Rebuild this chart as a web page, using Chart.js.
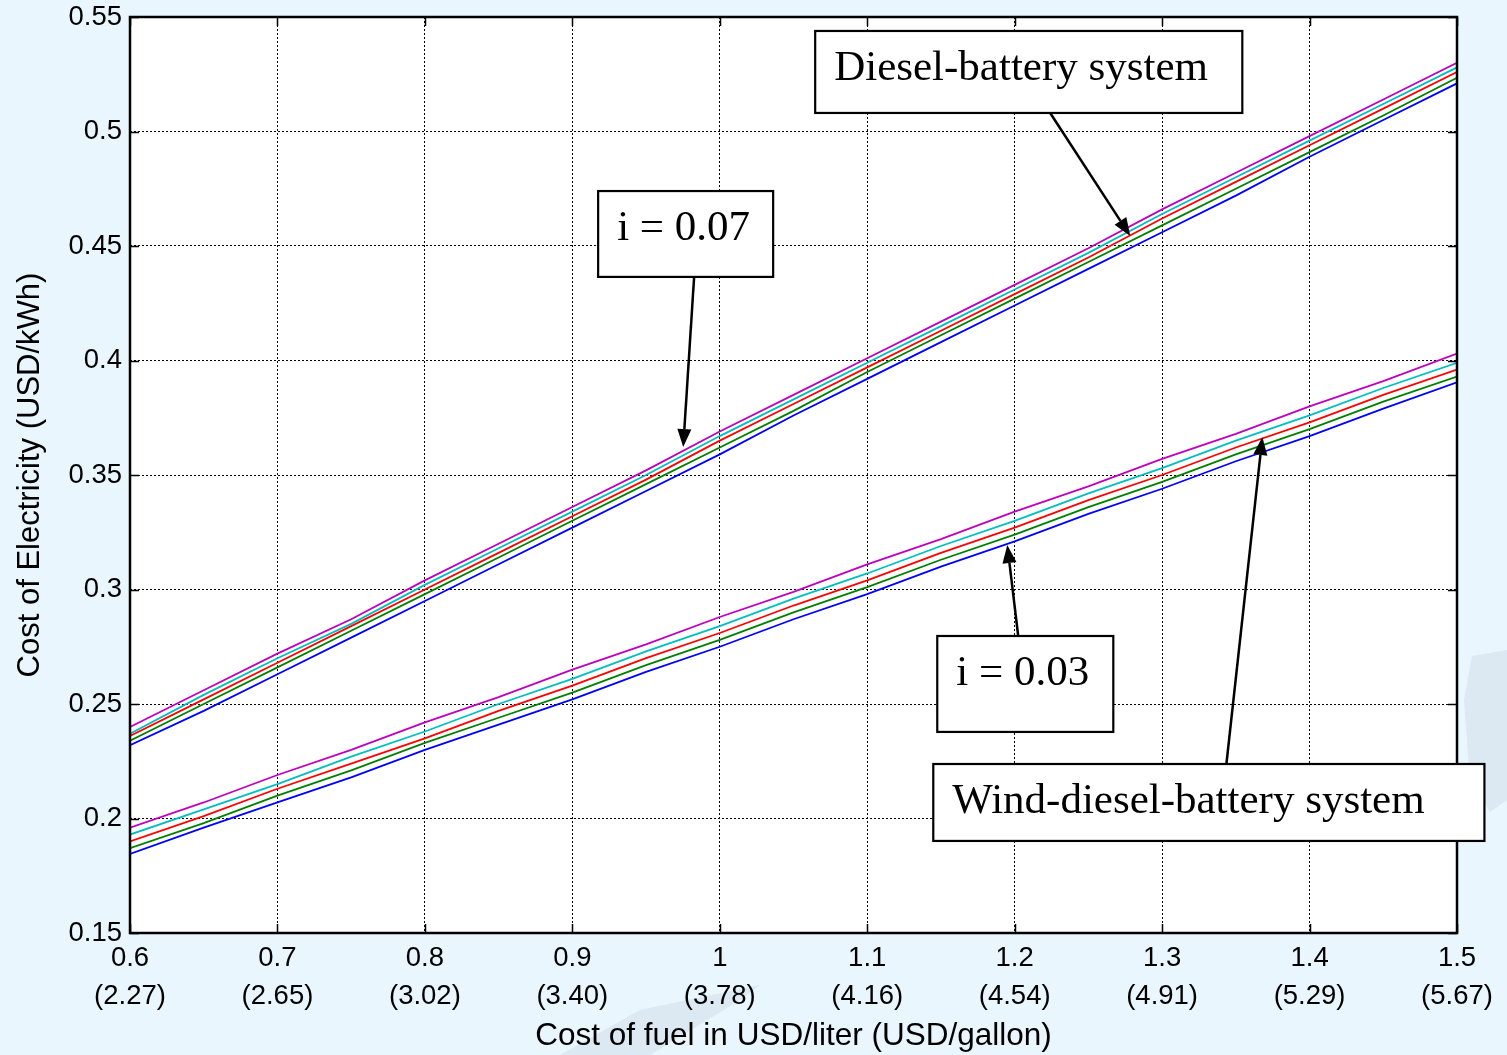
<!DOCTYPE html>
<html>
<head>
<meta charset="utf-8">
<title>Cost of Electricity vs Cost of Fuel</title>
<script src="https://cdn.jsdelivr.net/npm/chart.js@4.4.1/dist/chart.umd.min.js"></script>
<style>
  html, body { margin: 0; padding: 0; background: #eaf6fd; }
  #wrap { position: relative; width: 1507px; height: 1055px; }
  canvas { display: block; }
</style>
</head>
<body>
<div id="wrap"><canvas id="c" width="1507" height="1055"></canvas></div>
<script>
// Fuel price (USD/liter) sampled every 0.05
const fuelPrice = [0.6, 0.65, 0.7, 0.75, 0.8, 0.85, 0.9, 0.95, 1.0, 1.05, 1.1, 1.15, 1.2, 1.25, 1.3, 1.35, 1.4, 1.45, 1.5];

// Diesel-battery system (i = 0.07 group)
const dieselMagenta = [0.240, 0.256, 0.272, 0.287, 0.304, 0.320, 0.336, 0.352, 0.369, 0.385, 0.401, 0.417, 0.433, 0.449, 0.466, 0.482, 0.498, 0.514, 0.530];
const dieselCyan    = [0.237, 0.254, 0.270, 0.285, 0.302, 0.318, 0.334, 0.350, 0.367, 0.383, 0.399, 0.415, 0.431, 0.447, 0.464, 0.480, 0.496, 0.512, 0.528];
const dieselRed     = [0.236, 0.252, 0.268, 0.284, 0.300, 0.316, 0.332, 0.348, 0.365, 0.381, 0.397, 0.413, 0.429, 0.445, 0.462, 0.478, 0.494, 0.510, 0.526];
const dieselGreen   = [0.234, 0.250, 0.266, 0.282, 0.298, 0.314, 0.330, 0.346, 0.362, 0.378, 0.395, 0.411, 0.427, 0.443, 0.459, 0.475, 0.491, 0.507, 0.5235];
const dieselBlue    = [0.232, 0.247, 0.263, 0.279, 0.295, 0.311, 0.327, 0.343, 0.359, 0.376, 0.392, 0.408, 0.424, 0.440, 0.456, 0.472, 0.489, 0.505, 0.521];

// Wind-diesel-battery system (i = 0.03 group)
const windMagenta = [0.196, 0.207, 0.219, 0.230, 0.242, 0.253, 0.265, 0.276, 0.288, 0.299, 0.311, 0.322, 0.334, 0.345, 0.357, 0.368, 0.380, 0.391, 0.403];
const windCyan    = [0.193, 0.204, 0.215, 0.227, 0.238, 0.250, 0.261, 0.273, 0.284, 0.296, 0.307, 0.319, 0.330, 0.342, 0.353, 0.365, 0.376, 0.388, 0.399];
const windRed     = [0.190, 0.201, 0.213, 0.224, 0.235, 0.247, 0.258, 0.270, 0.281, 0.293, 0.304, 0.316, 0.327, 0.339, 0.350, 0.362, 0.373, 0.385, 0.396];
const windGreen   = [0.187, 0.198, 0.210, 0.221, 0.233, 0.244, 0.255, 0.267, 0.278, 0.290, 0.301, 0.313, 0.324, 0.336, 0.347, 0.359, 0.370, 0.382, 0.393];
const windBlue    = [0.1845, 0.196, 0.207, 0.218, 0.230, 0.241, 0.252, 0.264, 0.275, 0.287, 0.298, 0.310, 0.321, 0.333, 0.344, 0.356, 0.367, 0.379, 0.3905];

// X tick labels: USD/liter with USD/gallon underneath
const xTickValues  = [0.6, 0.7, 0.8, 0.9, 1.0, 1.1, 1.2, 1.3, 1.4, 1.5];
const xTickLiter   = ['0.6', '0.7', '0.8', '0.9', '1', '1.1', '1.2', '1.3', '1.4', '1.5'];
const xTickGallon  = ['(2.27)', '(2.65)', '(3.02)', '(3.40)', '(3.78)', '(4.16)', '(4.54)', '(4.91)', '(5.29)', '(5.67)'];

const lineColors = ['#bf00bf', '#00bfbf', '#ff0000', '#008000', '#0000ff'];

// Callout boxes (data units) with arrows pointing at the curves
const callouts = [
  { text: 'Diesel-battery system',      box: [1.0647, 0.5439, 1.3544, 0.5081], from: [1.2241, 0.5081], to: [1.2784, 0.4544] },
  { text: 'i = 0.07',                   box: [0.9175, 0.4740, 1.0362, 0.4365], from: [0.9826, 0.4365], to: [0.9752, 0.3622] },
  { text: 'i = 0.03',                   box: [1.1475, 0.2797, 1.2669, 0.2378], from: [1.2024, 0.2797], to: [1.1950, 0.3194] },
  { text: 'Wind-diesel-battery system', box: [1.1448, 0.2238, 1.5186, 0.1902], from: [1.3436, 0.2238], to: [1.3680, 0.3666] }
];

const toPts = arr => fuelPrice.map((x, i) => ({ x: x, y: arr[i] }));
const series = [dieselMagenta, dieselCyan, dieselRed, dieselGreen, dieselBlue,
                windMagenta, windCyan, windRed, windGreen, windBlue];

const datasets = series.map((s, k) => ({
  data: toPts(s),
  borderColor: lineColors[k % 5],
  borderWidth: 1.8,
  pointRadius: 0,
  tension: 0,
  fill: false
}));

const AXIS_FONT = '"Liberation Sans", Arial, Helvetica, sans-serif';
const SERIF_FONT = '"Liberation Serif", "Times New Roman", serif';

// Page watermark, white plot area, box frame, inner ticks and callouts
const framePlugin = {
  id: 'frame',
  beforeDraw(chart) {
    const { ctx, chartArea: a } = chart;
    ctx.save();
    ctx.fillStyle = 'rgba(200, 212, 224, 0.4)';
    ctx.beginPath();
    ctx.moveTo(1507, 650); ctx.lineTo(1472, 656); ctx.lineTo(1464, 700);
    ctx.lineTo(1470, 780); ctx.lineTo(1490, 812); ctx.lineTo(1507, 800);
    ctx.closePath(); ctx.fill();
    ctx.beginPath();
    ctx.moveTo(560, 1055); ctx.lineTo(640, 1010); ctx.lineTo(760, 985);
    ctx.lineTo(740, 1000); ctx.lineTo(650, 1055);
    ctx.closePath(); ctx.fill();
    ctx.fillStyle = '#ffffff';
    ctx.fillRect(a.left, a.top, a.right - a.left, a.bottom - a.top);
    ctx.restore();
  },
  afterDatasetsDraw(chart) {
    const { ctx, chartArea: a, scales } = chart;
    const xs = scales.x, ys = scales.y;
    ctx.save();
    // inner tick marks on all four sides
    ctx.strokeStyle = '#000';
    ctx.lineWidth = 1.5;
    ctx.setLineDash([]);
    const tl = 9;
    xTickValues.forEach(v => {
      const px = Math.round(xs.getPixelForValue(v)) + 0.5;
      ctx.beginPath();
      ctx.moveTo(px, a.bottom); ctx.lineTo(px, a.bottom - tl);
      ctx.moveTo(px, a.top); ctx.lineTo(px, a.top + tl);
      ctx.stroke();
    });
    ys.ticks.forEach(t => {
      const py = Math.round(ys.getPixelForValue(t.value)) + 0.5;
      ctx.beginPath();
      ctx.moveTo(a.left, py); ctx.lineTo(a.left + tl, py);
      ctx.moveTo(a.right, py); ctx.lineTo(a.right - tl, py);
      ctx.stroke();
    });
    // frame
    ctx.lineWidth = 2.5;
    ctx.strokeRect(a.left, a.top, a.right - a.left, a.bottom - a.top);

    // callouts
    callouts.forEach(c => {
      const x1 = xs.getPixelForValue(c.box[0]), y1 = ys.getPixelForValue(c.box[1]);
      const x2 = xs.getPixelForValue(c.box[2]), y2 = ys.getPixelForValue(c.box[3]);
      ctx.fillStyle = '#ffffff';
      ctx.fillRect(x1, y1, x2 - x1, y2 - y1);
      ctx.strokeStyle = '#000';
      ctx.lineWidth = 2.2;
      ctx.strokeRect(x1, y1, x2 - x1, y2 - y1);
      ctx.fillStyle = '#000';
      ctx.font = '43px ' + SERIF_FONT;
      ctx.textAlign = 'left';
      ctx.textBaseline = 'middle';
      ctx.fillText(c.text, x1 + 19, y1 + 38);

      const fx = xs.getPixelForValue(c.from[0]), fy = ys.getPixelForValue(c.from[1]);
      const tx = xs.getPixelForValue(c.to[0]), ty = ys.getPixelForValue(c.to[1]);
      const ang = Math.atan2(ty - fy, tx - fx);
      const hl = 18, hw = 7;
      const bx = tx - hl * Math.cos(ang), by = ty - hl * Math.sin(ang);
      ctx.lineWidth = 2.5;
      ctx.beginPath();
      ctx.moveTo(fx, fy); ctx.lineTo(bx, by);
      ctx.stroke();
      ctx.beginPath();
      ctx.moveTo(tx, ty);
      ctx.lineTo(bx + hw * Math.sin(ang), by - hw * Math.cos(ang));
      ctx.lineTo(bx - hw * Math.sin(ang), by + hw * Math.cos(ang));
      ctx.closePath();
      ctx.fill();
    });
    ctx.restore();
  }
};

new Chart(document.getElementById('c'), {
  type: 'line',
  data: { datasets },
  plugins: [framePlugin],
  options: {
    responsive: false,
    animation: false,
    events: [],
    layout: { padding: { left: 0, top: 17, right: 50, bottom: 0 } },
    plugins: { legend: { display: false }, tooltip: { enabled: false } },
    scales: {
      x: {
        type: 'linear',
        min: 0.6, max: 1.5,
        afterFit(scale) { scale.height = 122; scale.paddingLeft = 0; scale.paddingRight = 0; },
        afterBuildTicks(scale) { scale.ticks = xTickValues.map(v => ({ value: v })); },
        ticks: {
          autoSkip: false,
          maxRotation: 0,
          padding: 7,
          color: '#000',
          font: { family: AXIS_FONT, size: 27.5, lineHeight: 1.37 },
          callback(v) {
            const i = xTickValues.findIndex(t => Math.abs(t - v) < 1e-6);
            return i < 0 ? '' : [xTickLiter[i], xTickGallon[i]];
          }
        },
        grid: { color: '#000', lineWidth: 1, drawTicks: false },
        border: { display: false, dash: [2, 2] },
        title: {
          display: true,
          text: 'Cost of fuel in USD/liter (USD/gallon)',
          color: '#000',
          font: { family: AXIS_FONT, size: 31.5 },
          padding: { top: 0, bottom: 0 }
        }
      },
      y: {
        type: 'linear',
        min: 0.15, max: 0.55,
        afterFit(scale) { scale.width = 130; scale.paddingTop = 0; scale.paddingBottom = 0; },
        ticks: {
          stepSize: 0.05,
          padding: 8,
          color: '#000',
          font: { family: AXIS_FONT, size: 27.5 },
          callback(v) { return String(Number(v.toFixed(2))); }
        },
        grid: { color: '#000', lineWidth: 1, drawTicks: false },
        border: { display: false, dash: [2, 2] },
        title: {
          display: true,
          text: 'Cost of Electricity (USD/kWh)',
          color: '#000',
          font: { family: AXIS_FONT, size: 31 },
          padding: { top: 12, bottom: 0 }
        }
      }
    }
  }
});
</script>
</body>
</html>
